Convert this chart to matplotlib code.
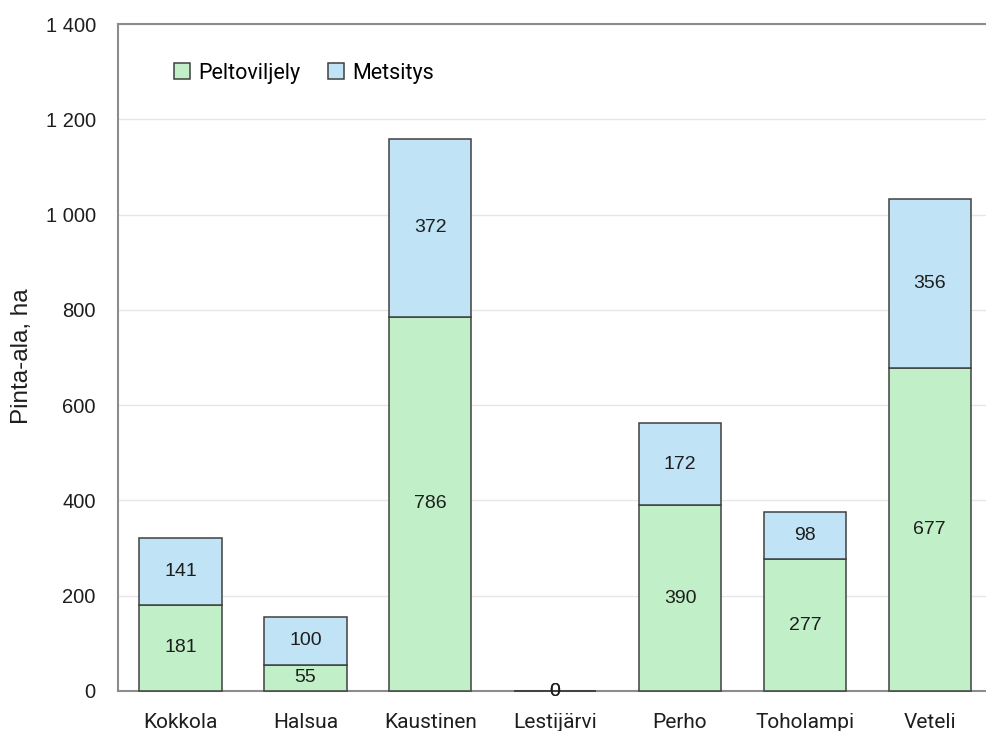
import numpy as np
import matplotlib
matplotlib.use("Agg")
import matplotlib.pyplot as plt

plt.rcParams['font.family'] = ['Roboto', 'DejaVu Sans']

kunnat = ["Kokkola", "Halsua", "Kaustinen", "Lestijärvi", "Perho", "Toholampi", "Veteli"]
peltoviljely = [181, 55, 786, 0, 390, 277, 677]
metsitys = [141, 100, 372, 0, 172, 98, 356]
yticks = [0, 200, 400, 600, 800, 1000, 1200, 1400]

green = "#C1F0C8"
blue = "#C0E4F5"
edge = "#404040"
txt = "#1E1E1E"
arial = ['Liberation Sans', 'DejaVu Sans']

fig = plt.figure(figsize=(9.86, 7.31), dpi=100)
ax = fig.add_axes([118 / 986, 40 / 731, 1 - 118 / 986, (691 - 24) / 731])

x = np.arange(len(kunnat))
b1 = ax.bar(x, peltoviljely, width=0.66, color=green, edgecolor=edge, linewidth=1.1,
            label="Peltoviljely", zorder=3, clip_on=False)
b2 = ax.bar(x, metsitys, width=0.66, bottom=peltoviljely, color=blue, edgecolor=edge,
            linewidth=1.1, label="Metsitys", zorder=3, clip_on=False)

for i in range(len(kunnat)):
    ax.text(x[i], peltoviljely[i] / 2, str(peltoviljely[i]), ha="center", va="center",
            fontsize=14, family=arial, color=txt, zorder=4)
    ax.text(x[i], peltoviljely[i] + metsitys[i] / 2, str(metsitys[i]), ha="center",
            va="center", fontsize=14, family=arial, color=txt, zorder=4)

ax.set_xlim(-0.5, 6.45)
ax.set_ylim(0, 1400)
ax.set_yticks(yticks)
ax.set_yticklabels([f"{v:,}".replace(",", " ") for v in yticks], family=arial, fontsize=14.5)
ax.set_xticks(x)
ax.set_xticklabels(kunnat, fontsize=15)
ax.tick_params(axis="both", length=0, colors=txt)
ax.tick_params(axis="y", pad=16)
ax.tick_params(axis="x", pad=16)
ax.grid(axis="y", color="#E6E6E6", linewidth=1, zorder=0)
ax.set_axisbelow(True)

for s in ["left", "bottom", "top"]:
    ax.spines[s].set_color("#8C8C8C")
    ax.spines[s].set_linewidth(1.5)
ax.spines["right"].set_visible(False)

fig.text(22 / 986, 1 - 356 / 731, "Pinta-ala, ha", rotation=90, ha="center", va="center",
         fontsize=17.5, family=arial, color=txt)

ax.legend(loc="upper left", bbox_to_anchor=(0.055, 0.955), ncol=2, frameon=False,
          fontsize=15.5, handlelength=0.75, handleheight=0.75, handletextpad=0.35,
          columnspacing=1.3, borderaxespad=0)

fig.savefig("out.png", dpi=100)
